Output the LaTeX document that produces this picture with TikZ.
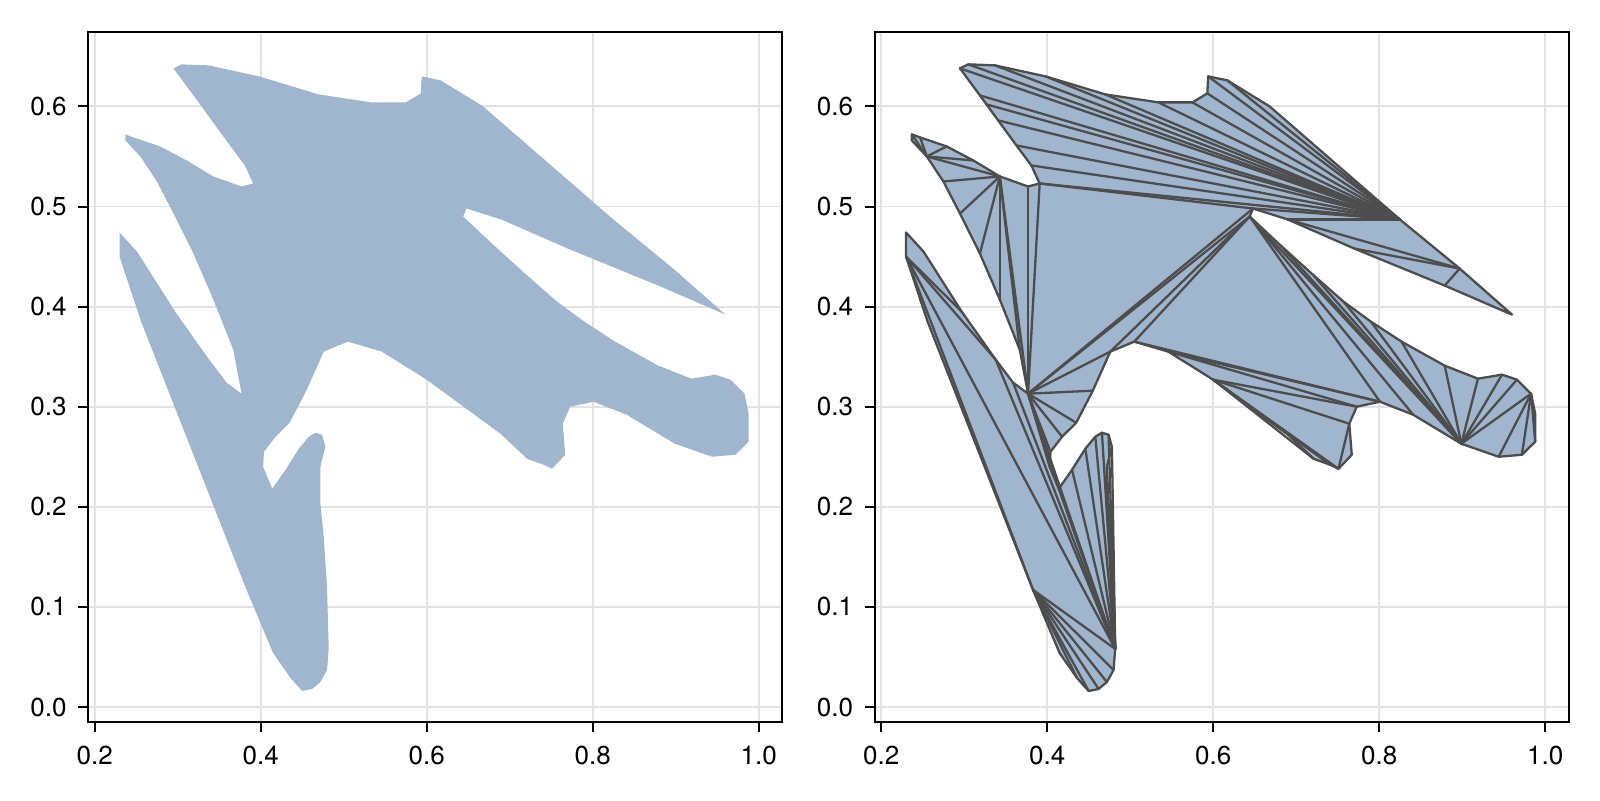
\documentclass[tikz,border=0pt]{standalone}
\usepackage{fontspec}
\setmainfont{TeX Gyre Heros}
\definecolor{polyfill}{RGB}{160,182,206}
\definecolor{polyedge}{RGB}{77,77,77}
\definecolor{gridgray}{RGB}{226,226,226}
\tikzstyle{frame}=[draw=black, line width=1pt]
\tikzstyle{gridline}=[draw=gridgray, line width=0.9pt]
\tikzstyle{axtick}=[draw=black, line width=1pt]
\tikzstyle{ticklabel}=[font=\fontsize{13}{15}\selectfont, inner sep=0pt]
\tikzstyle{mesh}=[draw=polyedge, line width=1.15pt, line join=round, line cap=round]

% polygon vertices in data coordinates
\newcommand{\shapeverts}{%
\coordinate (v1) at (0.295,0.638); \coordinate (v2) at (0.305,0.642);
\coordinate (v3) at (0.337,0.641); \coordinate (v4) at (0.398,0.630);
\coordinate (v5) at (0.470,0.612); \coordinate (v6) at (0.534,0.604);
\coordinate (v7) at (0.575,0.604); \coordinate (v8) at (0.593,0.613);
\coordinate (v9) at (0.594,0.630); \coordinate (v10) at (0.617,0.626);
\coordinate (v11) at (0.668,0.600); \coordinate (v12) at (0.825,0.487);
\coordinate (v13) at (0.897,0.438); \coordinate (v14) at (0.960,0.392);
\coordinate (v15) at (0.879,0.421); \coordinate (v16) at (0.770,0.458);
\coordinate (v17) at (0.690,0.487); \coordinate (v18) at (0.648,0.498);
\coordinate (v19) at (0.644,0.490); \coordinate (v20) at (0.680,0.462);
\coordinate (v21) at (0.720,0.432); \coordinate (v22) at (0.757,0.405);
\coordinate (v23) at (0.790,0.385); \coordinate (v24) at (0.827,0.365);
\coordinate (v25) at (0.879,0.341); \coordinate (v26) at (0.919,0.328);
\coordinate (v27) at (0.948,0.332); \coordinate (v28) at (0.966,0.327);
\coordinate (v29) at (0.983,0.313); \coordinate (v30) at (0.988,0.293);
\coordinate (v31) at (0.988,0.265); \coordinate (v32) at (0.972,0.252);
\coordinate (v33) at (0.944,0.250); \coordinate (v34) at (0.899,0.263);
\coordinate (v35) at (0.841,0.292); \coordinate (v36) at (0.801,0.305);
\coordinate (v37) at (0.773,0.300); \coordinate (v38) at (0.764,0.283);
\coordinate (v39) at (0.767,0.252); \coordinate (v40) at (0.751,0.238);
\coordinate (v41) at (0.741,0.242); \coordinate (v42) at (0.721,0.248);
\coordinate (v43) at (0.689,0.273); \coordinate (v44) at (0.656,0.293);
\coordinate (v45) at (0.600,0.327); \coordinate (v46) at (0.546,0.355);
\coordinate (v47) at (0.505,0.365); \coordinate (v48) at (0.476,0.355);
\coordinate (v49) at (0.455,0.316); \coordinate (v50) at (0.435,0.284);
\coordinate (v51) at (0.418,0.270); \coordinate (v52) at (0.404,0.255);
\coordinate (v53) at (0.403,0.240); \coordinate (v54) at (0.414,0.218);
\coordinate (v55) at (0.430,0.237); \coordinate (v56) at (0.446,0.258);
\coordinate (v57) at (0.458,0.270); \coordinate (v58) at (0.466,0.274);
\coordinate (v59) at (0.474,0.272); \coordinate (v60) at (0.478,0.260);
\coordinate (v61) at (0.472,0.240); \coordinate (v62) at (0.472,0.203);
\coordinate (v63) at (0.476,0.170); \coordinate (v64) at (0.480,0.120);
\coordinate (v65) at (0.482,0.058); \coordinate (v66) at (0.480,0.037);
\coordinate (v67) at (0.472,0.025); \coordinate (v68) at (0.462,0.018);
\coordinate (v69) at (0.450,0.016); \coordinate (v70) at (0.436,0.029);
\coordinate (v71) at (0.415,0.054); \coordinate (v72) at (0.383,0.117);
\coordinate (v73) at (0.256,0.385); \coordinate (v74) at (0.230,0.450);
\coordinate (v75) at (0.230,0.474); \coordinate (v76) at (0.251,0.455);
\coordinate (v77) at (0.297,0.395); \coordinate (v78) at (0.338,0.347);
\coordinate (v79) at (0.359,0.324); \coordinate (v80) at (0.377,0.313);
\coordinate (v81) at (0.367,0.357); \coordinate (v82) at (0.343,0.407);
\coordinate (v83) at (0.319,0.453); \coordinate (v84) at (0.295,0.493);
\coordinate (v85) at (0.275,0.525); \coordinate (v86) at (0.255,0.550);
\coordinate (v87) at (0.237,0.566); \coordinate (v88) at (0.237,0.572);
\coordinate (v89) at (0.247,0.569); \coordinate (v90) at (0.279,0.560);
\coordinate (v91) at (0.311,0.546); \coordinate (v92) at (0.343,0.530);
\coordinate (v93) at (0.377,0.520); \coordinate (v94) at (0.391,0.523);
\coordinate (v95) at (0.381,0.541); \coordinate (v96) at (0.363,0.561);
\coordinate (v97) at (0.341,0.586); \coordinate (v98) at (0.327,0.602);
\coordinate (v99) at (0.319,0.611);
}

% grid, frame, ticks and tick labels of one panel
\newcommand{\panelaxes}[1]{%
\foreach \x in {0.2,0.4,0.6,0.8,1.0}
  \draw[gridline] (\x,-0.015) -- (\x,0.6743);
\foreach \y in {0.0,0.1,0.2,0.3,0.4,0.5,0.6}
  \draw[gridline] (0.192,\y) -- (1.0282,\y);
\draw[frame] (0.192,-0.015) rectangle (1.0282,0.6743);
\foreach \x [count=\i] in {0.2,0.4,0.6,0.8,1.0} {
  \draw[axtick] (\x,-0.015) -- ++(0pt,-5pt);
  \node[ticklabel, anchor=north] (#1x\i) at ([yshift=-12pt]\x,-0.015) {\x};
}
\foreach \y [count=\i] in {0.0,0.1,0.2,0.3,0.4,0.5,0.6} {
  \draw[axtick] (0.192,\y) -- ++(-5pt,0pt);
  \node[ticklabel, anchor=east] (#1y\i) at ([xshift=-10.5pt]0.192,\y) {\y};
}
}

\begin{document}
\begin{tikzpicture}[x=0.5pt,y=0.5pt]
\useasboundingbox (0,0) rectangle (1600,800);

% left panel: filled polygon
\begin{scope}[shift={(-71.36,93)}, x=415pt, y=500.5pt]
\panelaxes{L}
\shapeverts
\fill[polyfill] (v1) \foreach \i in {2,...,99} { -- (v\i) } -- cycle;
\end{scope}

% right panel: polygon with its triangulation
\begin{scope}[shift={(715.14,93)}, x=415pt, y=500.5pt]
\panelaxes{R}
\shapeverts
\fill[polyfill] (v1) \foreach \i in {2,...,99} { -- (v\i) } -- cycle;
\foreach \a/\b in {12/1,12/2,12/3,12/4,12/5,12/6,12/7,12/8,12/9,12/10,
  12/94,12/95,12/96,12/97,12/98,12/99,12/18,94/18,12/17,17/13,16/13,15/13,
  94/80,93/80,92/80,18/80,19/80,19/48,80/48,19/47,
  19/36,47/36,46/36,46/37,45/37,19/35,19/34,
  34/20,34/21,34/22,34/23,34/24,
  45/38,45/40,45/41,45/42,45/43,38/40,
  34/25,34/26,34/27,34/28,34/29,29/33,29/32,29/31,
  80/49,80/50,80/51,80/52,80/53,80/54,80/65,
  54/65,55/65,56/65,57/65,58/65,59/65,60/65,61/65,62/65,63/65,
  79/65,78/65,74/78,74/77,74/65,74/72,72/65,72/66,72/67,72/68,72/69,72/70,
  92/81,92/82,92/83,92/84,92/85,92/86,86/88,86/89,86/90,86/91}
  \draw[mesh] (v\a) -- (v\b);
\draw[mesh] (v1) \foreach \i in {2,...,99} { -- (v\i) } -- cycle;
\end{scope}
\end{tikzpicture}
\end{document}
